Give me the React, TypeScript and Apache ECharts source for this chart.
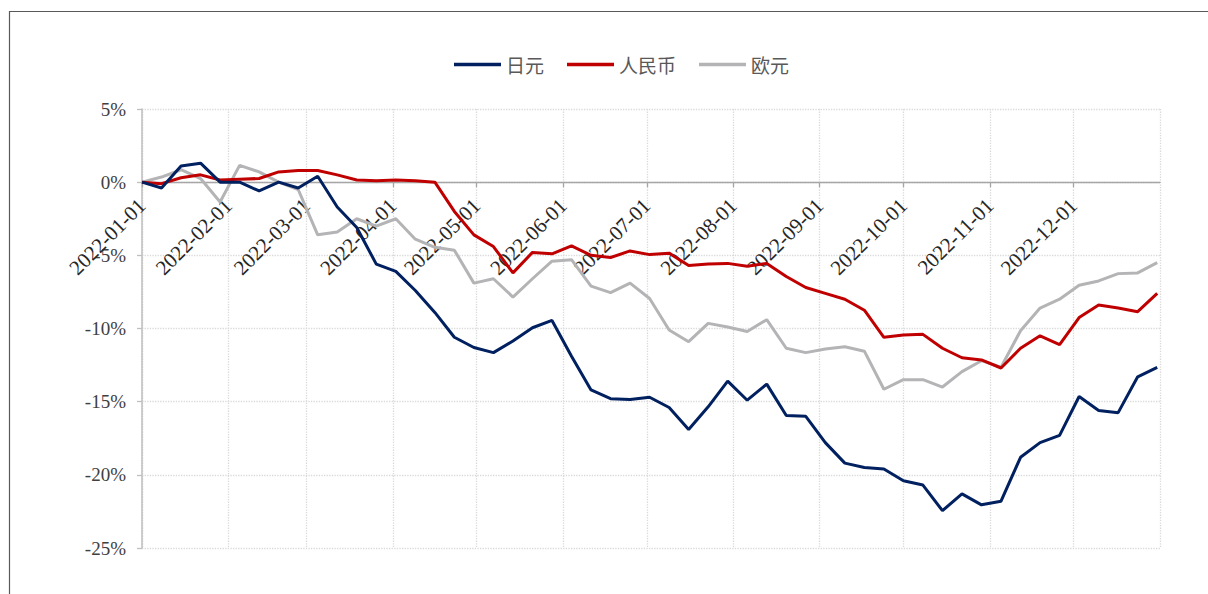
import React, { useEffect, useRef } from 'react';
import * as echarts from 'echarts';

const dates = [
  '2022-01-01', '2022-01-08', '2022-01-15', '2022-01-22', '2022-01-29',
  '2022-02-05', '2022-02-12', '2022-02-19', '2022-02-26',
  '2022-03-05', '2022-03-12', '2022-03-19', '2022-03-26',
  '2022-04-02', '2022-04-09', '2022-04-16', '2022-04-23', '2022-04-30',
  '2022-05-07', '2022-05-14', '2022-05-21', '2022-05-28',
  '2022-06-04', '2022-06-11', '2022-06-18', '2022-06-25',
  '2022-07-02', '2022-07-09', '2022-07-16', '2022-07-23', '2022-07-30',
  '2022-08-06', '2022-08-13', '2022-08-20', '2022-08-27',
  '2022-09-03', '2022-09-10', '2022-09-17', '2022-09-24',
  '2022-10-01', '2022-10-08', '2022-10-15', '2022-10-22', '2022-10-29',
  '2022-11-05', '2022-11-12', '2022-11-19', '2022-11-26',
  '2022-12-03', '2022-12-10', '2022-12-17', '2022-12-24', '2022-12-31',
];

const seriesNames = ['日元', '人民币', '欧元'];

const jpy = [
  0, -0.4, 1.1, 1.3, 0.0, 0.0, -0.6, 0.0, -0.4, 0.4,
  -1.7, -3.1, -5.6, -6.1, -7.4, -8.9, -10.6, -11.3, -11.65, -10.85,
  -9.95, -9.45, -11.9, -14.2, -14.8, -14.85, -14.7, -15.4, -16.9, -15.35,
  -13.6, -14.9, -13.8, -15.95, -16.0, -17.8, -19.2, -19.5, -19.6, -20.4,
  -20.7, -22.45, -21.3, -22.05, -21.8, -18.8, -17.8, -17.3, -14.65, -15.6,
  -15.75, -13.3, -12.65,
];

const cny = [
  0, -0.1, 0.3, 0.5, 0.15, 0.2, 0.25, 0.7, 0.8, 0.8,
  0.5, 0.15, 0.1, 0.15, 0.1, 0.0, -2.0, -3.6, -4.4, -6.2,
  -4.8, -4.9, -4.35, -5.0, -5.15, -4.7, -4.95, -4.85, -5.7, -5.6,
  -5.55, -5.75, -5.55, -6.45, -7.2, -7.6, -8.0, -8.75, -10.6, -10.45,
  -10.4, -11.35, -12.0, -12.15, -12.7, -11.35, -10.5, -11.1, -9.25, -8.4,
  -8.6, -8.85, -7.6,
];

const eur = [
  0, 0.35, 0.85, 0.25, -1.35, 1.15, 0.7, 0.0, -0.5, -3.6,
  -3.4, -2.5, -3.0, -2.5, -3.9, -4.45, -4.65, -6.9, -6.6, -7.85,
  -6.6, -5.4, -5.3, -7.1, -7.55, -6.9, -7.95, -10.1, -10.9, -9.65,
  -9.9, -10.2, -9.4, -11.35, -11.65, -11.4, -11.25, -11.55, -14.15, -13.5,
  -13.5, -14.0, -12.95, -12.2, -12.65, -10.15, -8.6, -8.0, -7.05, -6.75,
  -6.25, -6.2, -5.5,
];

const colors = ['#002060', '#C00000', '#B4B4B6'];

const yMin = -25;
const yMax = 5;
const yStep = 5;

const GRID_TOP = 109;
const GRID_BOTTOM_PX = 548;
const CHART_H = 594;

const pad = (n: number) => (n < 10 ? '0' + n : '' + n);

export default function App() {
  const ref = useRef<HTMLDivElement>(null);

  useEffect(() => {
    if (!ref.current) return;
    const chart = echarts.init(ref.current, null, { renderer: 'svg' });
    const values = [jpy, cny, eur];
    const serif = 'Liberation Serif';
    const plotH = GRID_BOTTOM_PX - GRID_TOP;
    // move the x axis (line, ticks, labels) up to the 0% level
    const zeroOffset = -plotH * (0 - yMin) / (yMax - yMin);
    chart.setOption({
      animation: false,
      backgroundColor: '#ffffff',
      graphic: [
        {
          type: 'rect',
          silent: true,
          z: -10,
          shape: { x: 9.5, y: 11.5, width: 1300, height: 700 },
          style: { fill: 'none', stroke: '#595959', lineWidth: 1.2 },
        },
      ],
      legend: {
        top: 50,
        left: 449,
        icon: 'rect',
        itemWidth: 47,
        itemHeight: 3.5,
        itemGap: 23,
        textStyle: { fontSize: 19, color: '#595959', fontFamily: 'Noto Sans CJK SC' },
        data: seriesNames,
      },
      grid: {
        left: 142,
        right: 48,
        top: GRID_TOP,
        bottom: CHART_H - GRID_BOTTOM_PX,
        containLabel: false,
        outerBoundsMode: 'none',
      },
      xAxis: {
        type: 'time',
        min: '2022-01-01',
        max: '2023-01-01',
        splitNumber: 12,
        minInterval: 28 * 86400000,
        maxInterval: 31 * 86400000,
        offset: zeroOffset,
        axisLine: { show: true, onZero: false, lineStyle: { color: '#a6a6a6', width: 1.3 } },
        axisTick: { show: true, length: 5, lineStyle: { color: '#a6a6a6', width: 1.3 } },
        axisLabel: {
          rotate: 45,
          fontSize: 21,
          fontFamily: serif,
          color: '#262626',
          margin: 20,
          showMaxLabel: false,
          hideOverlap: false,
          formatter: (v: number) => {
            const d = new Date(v);
            return d.getFullYear() + '-' + pad(d.getMonth() + 1) + '-' + pad(d.getDate());
          },
        },
        splitLine: { show: true, lineStyle: { type: 'dotted', color: '#d9d9d9', width: 1.3 } },
      },
      yAxis: {
        type: 'value',
        min: yMin,
        max: yMax,
        interval: yStep,
        axisLine: { show: true, onZero: false, lineStyle: { color: '#bfbfbf', width: 1.5 } },
        axisTick: { show: true, length: 5, lineStyle: { color: '#bfbfbf', width: 1.3 } },
        axisLabel: {
          fontSize: 19,
          fontFamily: serif,
          color: '#404040',
          margin: 16,
          formatter: (v: number) => v + '%',
        },
        splitLine: { show: true, lineStyle: { type: 'dotted', color: '#d9d9d9', width: 1.3 } },
      },
      series: seriesNames.map((name, i) => ({
        name,
        type: 'line',
        symbol: 'none',
        color: colors[i],
        lineStyle: { width: 3, color: colors[i] },
        data: dates.map((d, j) => [d, values[i][j]]),
        z: 3 - i + 2,
      })),
    });
    return () => chart.dispose();
  }, []);

  return (
    <div
      ref={ref}
      style={{ position: 'absolute', left: 0, top: 0, width: 1208, height: 594 }}
    />
  );
}
